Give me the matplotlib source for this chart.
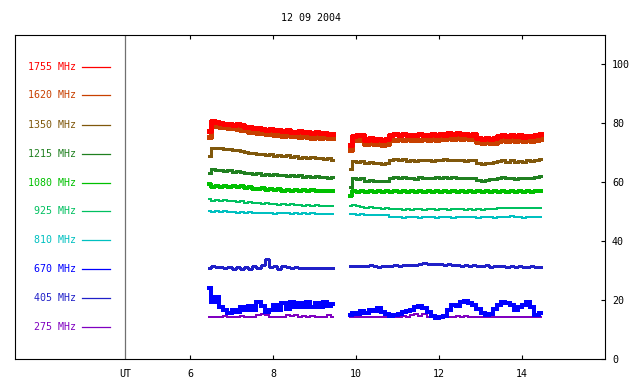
import numpy as np
import matplotlib
matplotlib.use("Agg")
import matplotlib.pyplot as plt

# --- data (UT hours, arbitrary flux units) ---
t_am = [6.45, 6.55, 6.65, 6.75, 6.85, 6.95, 7.05, 7.15, 7.25, 7.35, 7.45,
        7.55, 7.65, 7.75, 7.85, 7.95, 8.05, 8.15, 8.25, 8.35, 8.45, 8.55,
        8.65, 8.75, 8.85, 8.95, 9.05, 9.15, 9.25, 9.35, 9.45]
t_pm = [9.85, 9.95, 10.05, 10.15, 10.25, 10.35, 10.45, 10.55, 10.65, 10.75,
        10.85, 10.95, 11.05, 11.15, 11.25, 11.35, 11.45, 11.55, 11.65, 11.75,
        11.85, 11.95, 12.05, 12.15, 12.25, 12.35, 12.45, 12.55, 12.65, 12.75,
        12.85, 12.95, 13.05, 13.15, 13.25, 13.35, 13.45, 13.55, 13.65, 13.75,
        13.85, 13.95, 14.05, 14.15, 14.25, 14.35, 14.45]

freqs = ["1755 MHz", "1620 MHz", "1350 MHz", "1215 MHz", "1080 MHz",
         "925 MHz", "810 MHz", "670 MHz", "405 MHz", "275 MHz"]
colors = ["#ff0000", "#c84000", "#80580c", "#208020", "#00c000",
          "#00c060", "#00c0c0", "#0000ff", "#2020c8", "#8000c0"]

f1755_am = [77.5, 80.8, 80.3, 80.0, 79.8, 79.9, 79.5, 79.7, 79.3, 78.6, 78.9,
            78.3, 78.5, 78.0, 77.9, 78.2, 77.6, 77.8, 77.3, 77.6, 77.2, 77.0,
            77.4, 76.9, 77.1, 76.7, 77.0, 76.6, 76.8, 76.3, 76.5]
f1755_pm = [72.5, 75.8, 76.2, 75.9, 74.5, 74.9, 74.3, 74.8, 74.4, 74.7,
            76.0, 76.4, 76.1, 76.3, 75.9, 76.2, 76.0, 76.3, 75.9, 76.2,
            76.4, 76.1, 76.5, 76.2, 76.6, 76.3, 76.7, 76.3, 76.5, 76.2,
            76.4, 75.2, 74.7, 75.0, 74.6, 74.9, 75.6, 76.0, 75.7, 76.1,
            75.6, 75.9, 75.5, 75.8, 75.6, 76.1, 76.3]

f1620_am = [75.5, 79.5, 79.2, 78.6, 78.9, 78.3, 78.5, 78.0, 77.6, 77.9, 77.0,
            77.2, 76.6, 76.9, 76.3, 76.5, 76.0, 76.3, 75.8, 76.1, 75.6, 75.9,
            75.4, 75.7, 75.5, 75.2, 75.6, 75.1, 75.4, 74.9, 75.0]
f1620_pm = [71.0, 74.7, 74.4, 74.6, 73.0, 73.4, 72.9, 73.2, 72.8, 73.1,
            74.5, 74.3, 74.7, 74.4, 74.6, 74.2, 74.5, 74.3, 74.7, 74.4,
            74.8, 74.5, 74.9, 74.6, 75.0, 74.7, 75.1, 74.8, 75.0, 74.7,
            74.9, 73.8, 73.3, 73.6, 73.2, 73.5, 74.0, 74.3, 73.9, 74.4,
            74.0, 74.3, 73.9, 74.2, 74.0, 74.5, 74.6]

f1350_am = [69.0, 71.8, 71.5, 71.7, 71.2, 71.4, 70.9, 71.1, 70.6, 70.2, 69.8,
            70.0, 69.5, 69.7, 69.2, 69.5, 69.0, 69.3, 68.8, 69.1, 68.6, 68.9,
            68.4, 68.7, 68.3, 68.6, 68.1, 68.4, 67.9, 68.1, 67.7]
f1350_pm = [64.5, 67.2, 67.0, 67.3, 66.6, 66.9, 66.4, 66.7, 66.3, 66.6,
            67.6, 67.9, 67.5, 67.8, 67.3, 67.6, 67.2, 67.7, 67.4, 67.6,
            67.3, 67.7, 67.4, 67.8, 67.5, 67.7, 67.4, 67.6, 67.3, 67.7,
            67.4, 66.6, 66.3, 66.7, 66.4, 66.8, 67.1, 67.5, 67.0, 67.4,
            66.9, 67.2, 67.0, 67.4, 67.2, 67.7, 68.0]

f1215_am = [63.0, 64.5, 64.0, 64.3, 63.8, 64.1, 63.6, 63.9, 63.4, 63.0, 63.3,
            62.8, 63.0, 62.6, 62.9, 62.5, 62.7, 62.3, 62.6, 62.2, 62.4, 62.0,
            62.3, 61.9, 62.2, 61.8, 62.0, 61.7, 61.9, 61.5, 61.8]
f1215_pm = [58.4, 61.4, 61.0, 61.3, 60.6, 60.9, 60.4, 60.3, 60.6, 60.4,
            61.5, 61.8, 61.4, 61.7, 61.3, 61.6, 61.2, 61.7, 61.4, 61.6,
            61.3, 61.7, 61.4, 61.8, 61.5, 61.7, 61.4, 61.6, 61.3, 61.6,
            61.3, 60.9, 60.6, 60.9, 61.2, 61.0, 61.4, 61.7, 61.3, 61.6,
            61.2, 61.5, 61.3, 61.6, 61.4, 61.8, 62.0]

f1080_am = [59.5, 58.4, 58.8, 58.5, 58.9, 58.4, 58.7, 58.3, 58.6, 58.1, 58.4,
            57.8, 57.6, 57.9, 57.5, 57.8, 57.3, 57.6, 57.2, 57.5, 57.1, 57.4,
            57.0, 57.3, 57.1, 57.4, 57.0, 57.2, 56.9, 57.2, 57.0]
f1080_pm = [55.2, 57.0, 56.7, 57.1, 56.8, 57.0, 56.6, 57.0, 56.7, 57.1,
            56.8, 57.0, 56.6, 57.0, 56.8, 57.1, 56.6, 56.9, 56.7, 57.0,
            56.8, 57.1, 56.7, 57.0, 56.8, 57.1, 56.7, 57.0, 56.8, 56.9,
            56.6, 57.0, 56.7, 56.9, 56.6, 57.0, 56.8, 57.1, 56.7, 57.0,
            56.8, 57.0, 56.7, 57.0, 56.8, 57.0, 56.9]

f925_am = [54.3, 53.8, 54.0, 53.6, 53.9, 53.5, 53.7, 53.3, 53.5, 53.1, 53.2,
           53.0, 52.8, 52.6, 52.9, 52.5, 52.7, 52.4, 52.6, 52.3, 52.5, 52.2,
           52.4, 52.1, 52.3, 52.0, 52.2, 51.9, 52.1, 51.8, 52.0]
f925_pm = [52.0, 52.2, 51.8, 51.7, 51.4, 51.5, 51.3, 51.2, 51.0, 51.1,
           50.9, 50.8, 50.9, 50.7, 50.9, 50.6, 50.8, 50.9, 50.7, 50.9,
           50.8, 50.7, 50.9, 50.8, 50.7, 50.9, 50.8, 50.8, 50.7, 50.8,
           50.7, 50.8, 50.7, 50.8, 50.9, 51.0, 51.2, 51.3, 51.4, 51.2,
           51.4, 51.2, 51.3, 51.2, 51.3, 51.4, 51.4]

f810_am = [50.3, 50.0, 50.2, 49.9, 50.1, 49.8, 50.0, 49.7, 49.9, 49.6, 49.8,
           49.5, 49.7, 49.4, 49.6, 49.5, 49.3, 49.6, 49.4, 49.5, 49.3, 49.5,
           49.2, 49.4, 49.2, 49.4, 49.1, 49.3, 49.1, 49.3, 49.1]
f810_pm = [49.1, 49.2, 48.9, 49.1, 48.9, 49.0, 48.8, 49.0, 48.8, 48.9,
           48.3, 48.1, 48.3, 48.0, 48.2, 48.1, 48.3, 48.0, 48.2, 48.1,
           48.3, 48.0, 48.2, 48.1, 48.2, 48.0, 48.2, 48.1, 48.3, 48.1,
           48.2, 48.0, 48.2, 48.1, 48.2, 48.0, 48.2, 48.1, 48.3, 48.5,
           48.3, 48.1, 48.0, 48.2, 48.1, 48.2, 48.3]

f670_am = [24.0, 19.5, 21.0, 17.5, 16.5, 15.5, 16.8, 16.0, 17.5, 16.5, 18.0,
           16.8, 19.5, 18.0, 15.8, 16.5, 18.5, 16.8, 19.0, 17.0, 19.5, 17.5,
           19.0, 17.8, 19.3, 17.6, 19.0, 17.8, 19.2, 18.0, 18.6]
f670_pm = [14.8, 15.6, 15.2, 16.3, 15.6, 16.8, 16.2, 17.2, 15.8, 15.4,
           14.6, 14.9, 15.4, 15.9, 16.4, 16.8, 17.5, 18.0, 17.2, 16.0,
           14.5, 14.0, 14.2, 14.6, 16.5, 18.4, 18.0, 19.2, 19.8, 19.0,
           18.5, 17.0, 15.6, 14.8, 15.2, 17.0, 18.3, 19.3, 19.0, 18.2,
           16.8, 17.6, 18.5, 19.5, 17.8, 15.0, 15.5]

f405_am = [30.8, 31.6, 31.2, 31.4, 31.0, 31.2, 30.6, 31.3, 30.4, 31.4, 30.5,
           31.5, 30.8, 31.8, 33.8, 31.2, 31.6, 30.7, 31.5, 31.2, 31.0, 31.1,
           30.9, 31.0, 30.8, 30.9, 30.8, 30.9, 30.8, 30.8, 30.8]
f405_pm = [31.5, 31.7, 31.6, 31.7, 31.6, 31.8, 31.5, 31.2, 31.6, 31.7,
           31.6, 31.8, 31.7, 31.9, 31.8, 32.0, 31.9, 32.2, 32.5, 32.3,
           32.4, 32.1, 32.2, 31.9, 32.1, 31.8, 32.0, 31.7, 31.9, 31.6,
           31.8, 31.7, 31.5, 31.8, 31.4, 31.6, 31.5, 31.7, 31.4, 31.6,
           31.3, 31.5, 31.2, 31.4, 31.6, 31.3, 31.1]

f275_am = [14.4, 14.3, 14.4, 14.3, 14.5, 14.3, 14.4, 14.2, 14.6, 14.3, 14.4,
           14.3, 15.0, 15.4, 14.8, 14.3, 14.2, 14.4, 14.3, 14.8, 14.5, 14.9,
           14.4, 14.6, 14.3, 14.5, 14.3, 14.4, 14.3, 14.9, 14.4]
f275_pm = [14.2, 14.4, 14.2, 14.3, 14.1, 14.3, 14.2, 14.4, 14.2, 14.3,
           14.1, 14.3, 14.2, 14.5, 14.3, 14.8, 15.3, 14.6, 15.2, 14.4,
           14.2, 14.3, 14.1, 14.3, 14.2, 14.4, 14.6, 14.3, 14.5, 14.2,
           14.4, 14.2, 14.3, 14.2, 14.4, 14.3, 14.2, 14.4, 14.3, 14.2,
           14.3, 14.2, 14.4, 14.2, 14.3, 14.2, 14.3]

series_am = [f1755_am, f1620_am, f1350_am, f1215_am, f1080_am,
             f925_am, f810_am, f670_am, f405_am, f275_am]
series_pm = [f1755_pm, f1620_pm, f1350_pm, f1215_pm, f1080_pm,
             f925_pm, f810_pm, f670_pm, f405_pm, f275_pm]
widths = [2.4, 2.4, 1.8, 1.8, 1.6, 1.4, 1.3, 2.6, 1.0, 1.2]

legend_y = [99.3, 89.5, 79.5, 69.7, 59.8, 50.2, 40.3, 30.5, 20.7, 10.8]

plt.rcParams["font.family"] = "DejaVu Sans Mono"
plt.rcParams["font.size"] = 7.2

fig = plt.figure(figsize=(6.4, 3.84), dpi=100)
ax = fig.add_axes([15 / 640, 25 / 384, 590 / 640, 324 / 384])
ax.set_xlim(1.78, 16.0)
ax.set_ylim(0, 110)

# legend-like labels on the left part of the frame
for name, c, y in zip(freqs, colors, legend_y):
    ax.text(3.25, y, name, color=c, ha="right", va="center")
    ax.plot([3.39, 4.07], [y, y], color=c, lw=0.9)

ax.axvline(4.43, color="#707070", lw=0.9)

# draw low frequencies first so the top channels sit on top
for i in range(len(freqs) - 1, -1, -1):
    ax.plot(t_am, series_am[i], color=colors[i], lw=widths[i],
            drawstyle="steps-mid", antialiased=False)
    ax.plot(t_pm, series_pm[i], color=colors[i], lw=widths[i],
            drawstyle="steps-mid", antialiased=False)

ax.set_xticks([4.43, 6, 8, 10, 12, 14], ["UT", "6", "8", "10", "12", "14"])
ax.tick_params(axis="x", direction="in", length=3, width=0.8, top=True,
               bottom=True, pad=7)
for tk in ax.xaxis.get_major_ticks()[:1]:
    tk.tick1line.set_visible(False)
    tk.tick2line.set_visible(False)

ax.yaxis.tick_right()
ax.set_yticks([0, 20, 40, 60, 80, 100])
ax.tick_params(axis="y", direction="in", length=3, width=0.8, left=False,
               right=True, pad=5)

for s in ax.spines.values():
    s.set_linewidth(0.8)

fig.text(311 / 640, 1 - 18 / 384, "12 09 2004", ha="center", va="center")

fig.savefig("out.png", dpi=100)
